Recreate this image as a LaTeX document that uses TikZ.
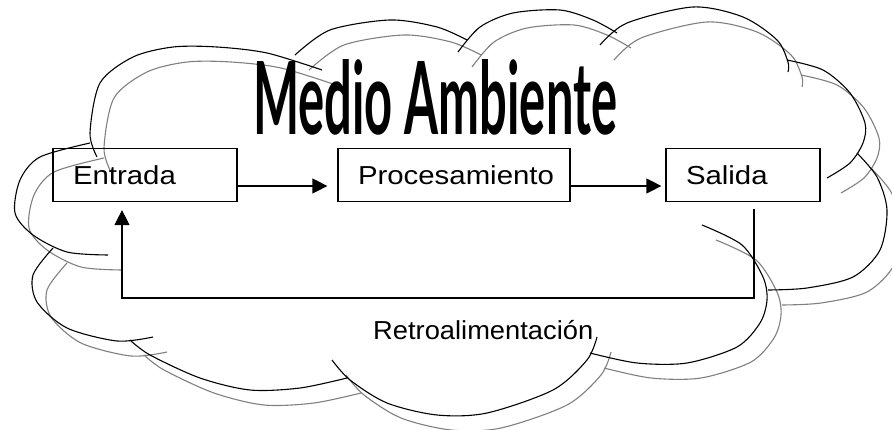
\documentclass[tikz,border=0pt]{standalone}
\usepackage{fontspec}
\usepackage{graphicx}
\usetikzlibrary{arrows.meta}

\newfontfamily\boxfont{Liberation Sans}[FakeStretch=1.13]
\newfontfamily\retrofont{Liberation Sans}[FakeStretch=1.05]
\newfontfamily\titlefont{Lato}

\tikzset{
  caja/.style={draw, line width=1.2pt, minimum height=53pt, inner xsep=20pt, align=left,
    font=\boxfont\fontsize{26pt}{30pt}\selectfont},
  flecha/.style={line width=1.2pt, -{Triangle[length=15pt,width=15pt]}},
  nube/.style={line width=1.1pt, black},
  sombra/.style={line width=1.1pt, black!50},
}

% lobes of the cloud, one arc each
\newcommand{\nubelobes}[1]{
  \draw[#1] plot[smooth] coordinates {(108,255) (67,252) (33,235) (15,213) (20,180) (40,157) (90,143)};
  \draw[#1] plot[smooth] coordinates {(97,157) (90,133) (100,83) (133,57) (173,47) (217,47) (267,53) (322,70)};
  \draw[#1] plot[smooth] coordinates {(295,55) (330,30) (390,20) (437,27) (467,40)};
  \draw[#1] plot[smooth] coordinates {(458,52) (480,27) (513,13) (560,10) (593,20) (617,33)};
  \draw[#1] plot[smooth] coordinates {(600,45) (627,23) (693,7) (743,17) (777,40) (788,62) (788,72)};
  \draw[#1] plot[smooth] coordinates {(787,60) (823,70) (850,93) (865,123) (863,143) (850,163) (827,178)};
  \draw[#1] plot[smooth] coordinates {(857,153) (877,177) (887,210) (880,250) (853,277) (807,288) (768,290)};
  \draw[#1] plot[smooth] coordinates {(702,225) (742,245) (763,277) (767,300) (760,323) (737,347) (687,363) (637,363) (590,353)};
  \draw[#1] plot[smooth] coordinates {(597,337) (587,360) (553,390) (487,413) (437,415) (387,403) (350,380) (332,360)};
  \draw[#1] plot[smooth] coordinates {(347,378) (300,388) (250,390) (200,378) (150,355) (130,340)};
  \draw[#1] plot[smooth] coordinates {(153,337) (117,341) (67,328) (37,302) (33,275) (53,248)};
}

\begin{document}
\begin{tikzpicture}[x=1pt, y=-1pt]
\clip (0,0) rectangle (892,430);
\fill[white] (0,0) rectangle (892,430);
% cloud and its shadow
\nubelobes{sombra, shift={(14,15)}}
\nubelobes{nube}
% title
\node (titulo) [anchor=base west, inner sep=0] at (253,135)
  {\resizebox{364pt}{75pt}{\titlefont\bfseries Medio Ambiente}};
% boxes
\node (entrada) [caja, text width=144pt] at (145,175) {Entrada};
\node (proc) [caja, text width=192pt] at (454,175) {Procesamiento};
\node (salida) [caja, text width=114pt] at (743,175) {Salida};
% arrows
\draw[flecha, shorten >=10pt] ([yshift=-11pt]entrada.east) -- ([yshift=-11pt]proc.west);
\draw[flecha, shorten >=4pt] ([yshift=-11pt]proc.east) -- ([yshift=-11pt]salida.west);
\coordinate (retroR) at (754,298);
\coordinate (retroL) at (122,298);
\draw[flecha, shorten <=7pt, shorten >=8pt] (salida.south -| retroR) -- (retroR) -- (retroL) -- (entrada.south -| retroL);
% label
\node (retro) [anchor=base west, inner sep=0, font=\retrofont\fontsize{26pt}{30pt}\selectfont] at (373,340) {Retroalimentación};
\end{tikzpicture}
\end{document}
